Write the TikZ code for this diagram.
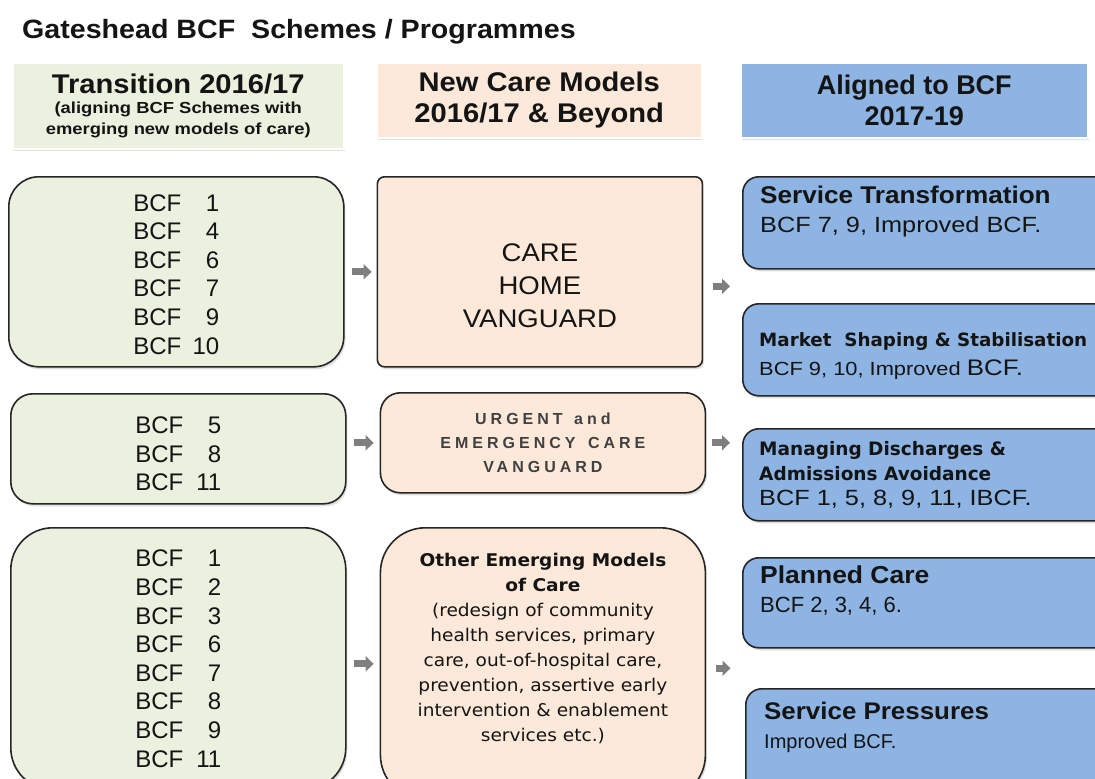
\documentclass[tikz,border=0pt]{standalone}
\usepackage{fontspec}
\setmainfont{Liberation Sans}
\newfontfamily\widesans{Liberation Sans}[FakeStretch=1.08]
\newfontfamily\widersans{Liberation Sans}[FakeStretch=1.15]
\newfontfamily\tahoma{DejaVu Sans}
\newfontfamily\tahomawide{DejaVu Sans}[FakeStretch=1.06]
\usepackage{tikz}
\usetikzlibrary{arrows.meta, positioning, calc, shadows}
\definecolor{darktext}{HTML}{141414}
\definecolor{softtext}{HTML}{404040}
\definecolor{greenfill}{HTML}{EBF1DE}
\definecolor{peachfill}{HTML}{FDE9D9}
\definecolor{bluefill}{HTML}{8DB4E2}
\definecolor{boxline}{HTML}{262626}
\definecolor{arrowgray}{HTML}{7F7F7F}
\newcommand{\bcfline}[1]{\makebox[86pt]{BCF\hfill #1}}

\begin{document}
\begin{tikzpicture}[x=1pt, y=-1pt,
    shadowed/.style={drop shadow={shadow xshift=1.5pt, shadow yshift=-2.5pt, opacity=0.25}},
    headbox/.style={shadowed, draw=white, line width=1.5pt, anchor=north west, inner sep=0pt, align=flush center, text=darktext},
    schemebox/.style={shadowed, fill=greenfill, draw=boxline, line width=1.6pt, anchor=north west, inner sep=0pt, minimum width=335pt, text width=86pt, align=flush left, text=darktext, font=\fontsize{24}{28.6}\selectfont},
    modelbox/.style={shadowed, fill=peachfill, draw=boxline, line width=1.6pt, inner sep=0pt, minimum width=325pt, text width=318pt, align=flush center, text=darktext},
    alignbox/.style={shadowed, fill=bluefill, draw=boxline, line width=1.6pt, anchor=north west, rounded corners=16pt, minimum width=380pt},
    aligntext/.style={anchor=north west, inner sep=0pt, text width=330pt, align=flush left, text=darktext},
    garrow/.style={-{Triangle[length=8pt, width=15pt]}, line width=7pt, arrowgray}
]
\useasboundingbox (0,0) rectangle (1095,779);
\fill[white] (0,0) rectangle (1095,779);
\clip (0,0) rectangle (1095,779);

% title and column headers
\node[anchor=base west, inner sep=0pt, text=darktext, font=\widesans\bfseries\fontsize{26.5}{30}\selectfont] (title) at (22,38) {Gateshead BCF\ \ Schemes / Programmes};
\node[headbox, fill=greenfill, minimum width=331pt, minimum height=86pt, text width=325pt] (transition) at (12,62)
    {{\widesans\bfseries\fontsize{27}{31}\selectfont Transition 2016/17\par}{\widersans\bfseries\fontsize{16}{20.5}\selectfont (aligning BCF Schemes with\\emerging new models of care)\par}};
\node[headbox, fill=peachfill, minimum width=325pt, minimum height=75pt, text width=320pt, font=\widesans\bfseries\fontsize{27}{31}\selectfont] (newmodels) at (376,62) {New Care Models\\2016/17 \& Beyond};
\node[headbox, fill=bluefill, minimum width=347pt, minimum height=75pt, text width=340pt, font=\bfseries\fontsize{27}{31}\selectfont] (aligned) at (740,62) {Aligned to BCF\\2017-19};

% left column: BCF schemes
\node[schemebox, rounded corners=30pt, minimum height=190pt] (l1) at (8,176)
    {\bcfline{1}\\\bcfline{4}\\\bcfline{6}\\\bcfline{7}\\\bcfline{9}\\\bcfline{10}\par\vspace*{-5pt}};
\node[schemebox, rounded corners=22pt, minimum height=110pt] (l2) at (10,393)
    {\bcfline{5}\\\bcfline{8}\\\bcfline{11}\par\vspace*{-10pt}};
\node[schemebox, rounded corners=42pt, minimum height=262pt] (l3) at (10,527)
    {\bcfline{1}\\\bcfline{2}\\\bcfline{3}\\\bcfline{6}\\\bcfline{7}\\\bcfline{8}\\\bcfline{9}\\\bcfline{11}};

% middle column: care models
\node[modelbox, right=32pt of l1, minimum height=190pt, rounded corners=7pt, font=\widesans\fontsize{25.5}{33}\selectfont] (m1)
    {CARE\\HOME\\VANGUARD\par\vspace*{-28pt}};
\node[modelbox, right=33pt of l2, yshift=6pt, minimum height=100pt, rounded corners=20pt, text=softtext, font=\bfseries\fontsize{16}{24}\selectfont\addfontfeatures{LetterSpace=25}] (m2)
    {URGENT\hspace{3pt} and\\EMERGENCY\hspace{4pt} CARE\\VANGUARD};
\node[modelbox, right=33pt of l3.north east, anchor=north west, minimum height=272pt, rounded corners=45pt, font=\tahomawide\fontsize{17.5}{25}\selectfont] (m3)
    {{\bfseries Other Emerging Models\\of Care\par}(redesign of community\\health services, primary\\care, out-of-hospital care,\\prevention, assertive early\\intervention \& enablement\\services etc.)\par\vspace*{31pt}};

% right column: aligned programmes
\node[alignbox, minimum height=92pt] (r1) at (742,176) {};
\node[alignbox, minimum height=92pt] (r2) at (742,303) {};
\node[alignbox, minimum height=92pt] (r3) at (742,428) {};
\node[alignbox, minimum height=90pt] (r4) at (742,557) {};
\node[alignbox, minimum height=120pt] (r5) at (745,688) {};

\node[aligntext] (r1txt) at ([shift={(18,10)}]r1.north west)
    {{\widesans\bfseries\fontsize{24.2}{29}\selectfont Service Transformation\par}{\widersans\fontsize{22}{29}\selectfont BCF 7, 9, Improved BCF.\par}};
\node[aligntext] (r2txt) at ([shift={(17,29)}]r2.north west)
    {{\tahoma\bfseries\fontsize{18.3}{29}\selectfont Market\ \ Shaping \& Stabilisation\par}{\widersans\fontsize{19}{29}\selectfont BCF 9, 10, Improved {\fontsize{22.5}{29}\selectfont BCF.}\par}};
\node[aligntext] (r3txt) at ([shift={(17,13)}]r3.north west)
    {{\tahoma\bfseries\fontsize{18.5}{25}\selectfont Managing Discharges \&\\Admissions Avoidance\par}{\widersans\fontsize{22}{25}\selectfont BCF 1, 5, 8, 9, 11, IBCF.\par}};
\node[aligntext] (r4txt) at ([shift={(18,9)}]r4.north west)
    {{\widesans\bfseries\fontsize{24.5}{29}\selectfont Planned Care\par}{\fontsize{22}{29}\selectfont BCF 2, 3, 4, 6.\par}};
\node[aligntext] (r5txt) at ([shift={(19,14)}]r5.north west)
    {{\widesans\bfseries\fontsize{24}{29}\selectfont Service Pressures\par}{\fontsize{20}{29}\selectfont Improved BCF.\par}};

% block arrows between the columns
\coordinate (gap12) at ($(r1.south west)!0.5!(r2.north west)$);
\coordinate (gap45) at ($(r4.south west)!0.5!(r5.north west)$);
\draw[garrow, shorten <=7pt, shorten >=5pt] (l1.east) -- (m1.west);
\draw[garrow, shorten <=7pt, shorten >=6pt] (l2.east |- m2.west) -- (m2.west);
\draw[garrow, shorten <=7pt, shorten >=6pt] (l3.east |- m3.west) -- (m3.west);
\draw[garrow, shorten <=10pt, shorten >=12pt] (m1.east |- gap12) -- (gap12);
\draw[garrow, shorten <=6pt, shorten >=12pt] (m2.east) -- (m2.east -| r3.west);
\draw[garrow, shorten <=10pt, shorten >=13pt] (m3.east |- gap45) -- (gap45);
\end{tikzpicture}
\end{document}
